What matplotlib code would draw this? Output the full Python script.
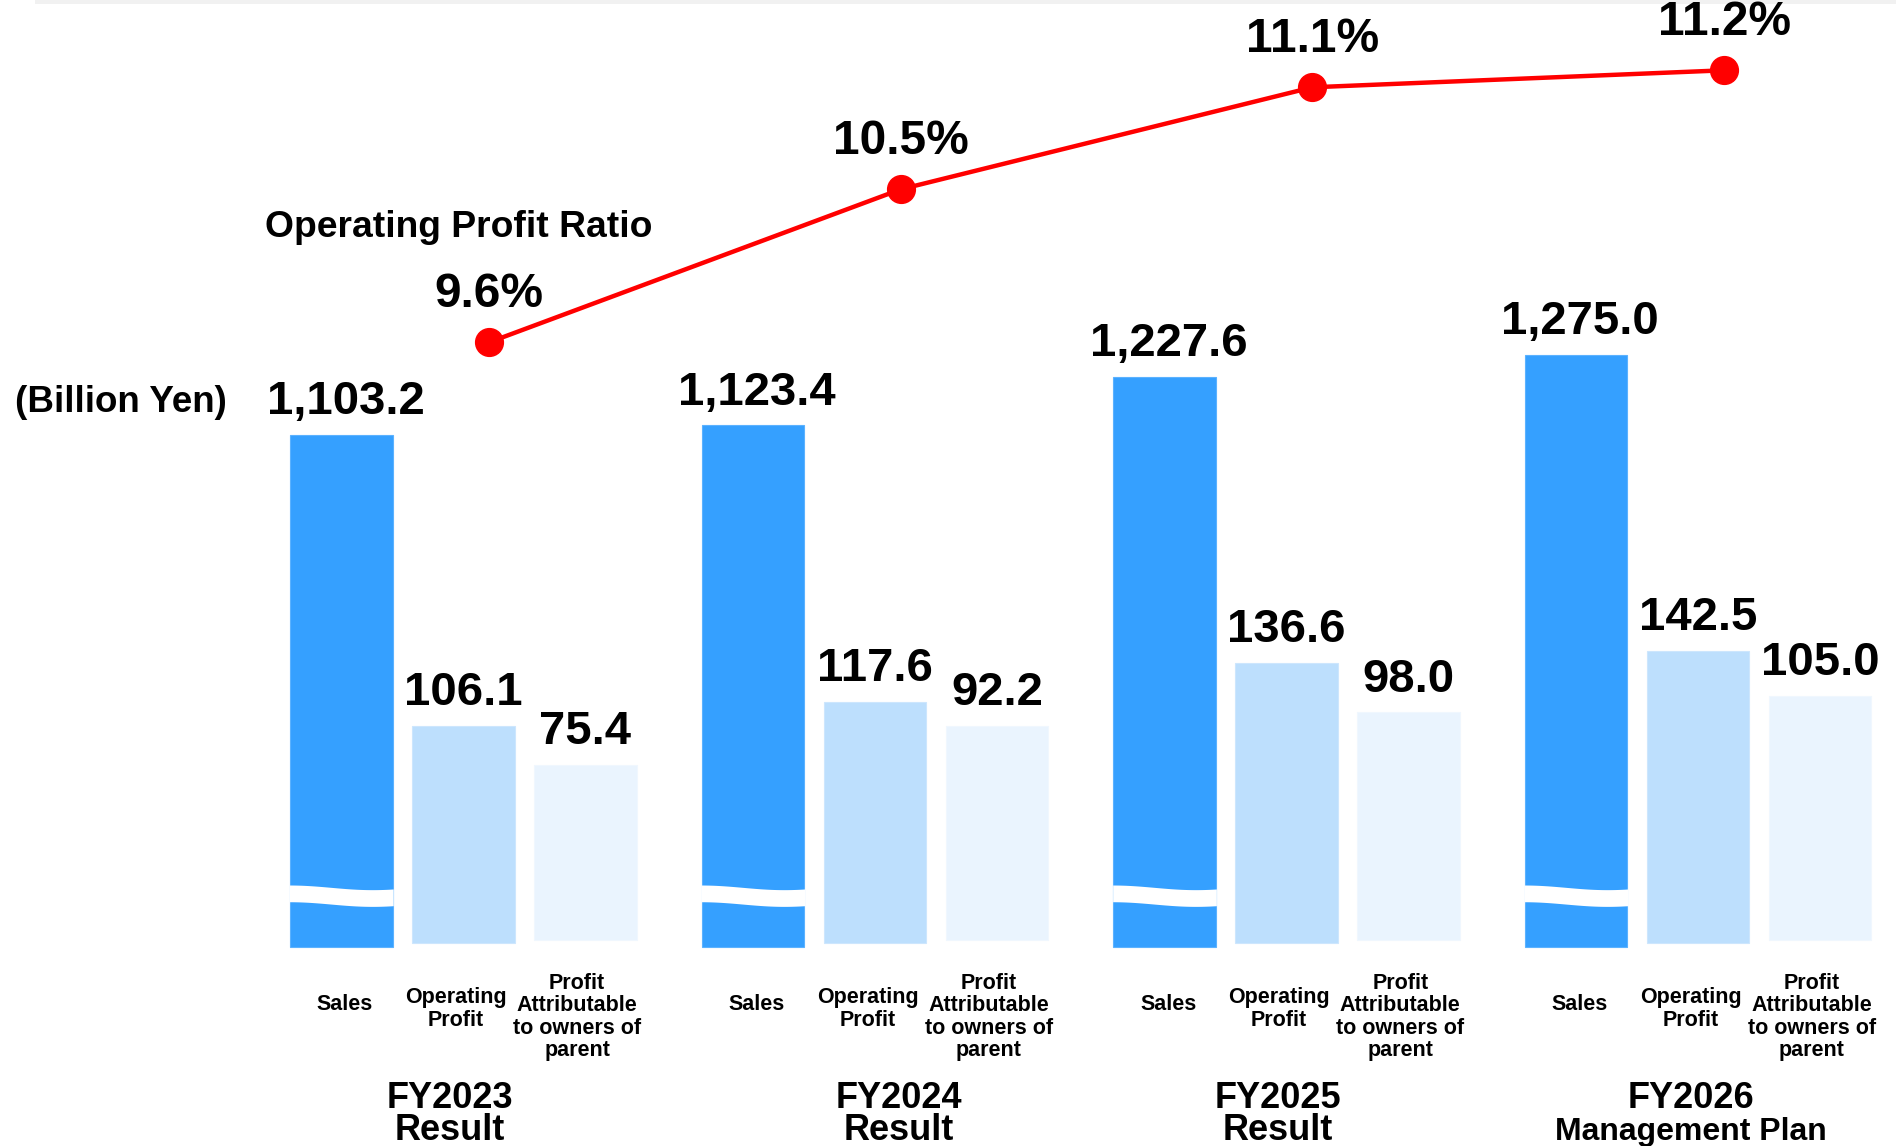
import numpy as np
import matplotlib
matplotlib.use("Agg")
import matplotlib.pyplot as plt
from matplotlib.patches import Rectangle, Polygon
from matplotlib.transforms import blended_transform_factory

# ---------------- data ----------------
group_years = ["FY2023", "FY2024", "FY2025", "FY2026"]
group_kinds = ["Result", "Result", "Result", "Management Plan"]
series_labels = ["Sales", "Operating\nProfit", "Profit\nAttributable\nto owners of\nparent"]
sales = [1103.2, 1123.4, 1227.6, 1275.0]
operating_profit = [106.1, 117.6, 136.6, 142.5]
profit_attrib = [75.4, 92.2, 98.0, 105.0]
op_ratio = [9.6, 10.5, 11.1, 11.2]
ratio_title = "Operating Profit Ratio"
unit_label = "(Billion Yen)"

# ---------------- style ----------------
W, H, DPI = 1896, 1146, 100
FONT = "Liberation Sans"
C_SALES = "#35A0FF"
C_OP = "#BDDFFD"
C_PAT = "#EAF4FE"
C_LINE = "#FF0000"

plt.rcParams["font.family"] = [FONT, "DejaVu Sans"]
plt.rcParams["font.weight"] = "bold"

fig = plt.figure(figsize=(W / DPI, H / DPI), dpi=DPI)
fig.patch.set_facecolor("white")

x = np.arange(len(group_years))
off = 0.2964
bw = 0.2495
xlim = (-1.1256, 3.4808)


def make_ax(ylim, z):
    a = fig.add_axes([0, 0, 1, 1], zorder=z)
    a.set_xlim(*xlim)
    a.set_ylim(*ylim)
    a.axis("off")
    a.patch.set_alpha(0)
    return a


ax_s = make_ax((-427.8, 2039.4), 1)
ax_o = make_ax((-98.88, 460.15), 2)
ax_p = make_ax((-88.96, 405.22), 3)
ax_l = make_ax((4.872, 11.6135), 4)

VAL_FS = 34
lab_off = 15

# Sales bars
ax_s.bar(x - off, sales, width=bw, color=C_SALES, edgecolor="#5BB2FF", linewidth=0.8)
for xi, v in zip(x - off, sales):
    ax_s.annotate(f"{v:,.1f}", (xi, v), xytext=(3, lab_off), textcoords="offset points",
                  ha="center", va="baseline", fontsize=VAL_FS, fontweight="bold")

# wave break on sales bars (decorative)
t = np.linspace(0, 1, 60)
BREAK_AT = 110.0
half = 18.0
amp = 5.0
for xi in x - off:
    xs = xi - bw / 2 + t * bw * 1.01
    top = BREAK_AT + half + amp * np.cos(1.25 * np.pi * t)
    bot = BREAK_AT - half + amp * np.cos(1.25 * np.pi * t)
    pts = np.column_stack([np.concatenate([xs, xs[::-1]]), np.concatenate([top, bot[::-1]])])
    ax_s.add_patch(Polygon(pts, closed=True, facecolor="white", edgecolor="none", zorder=5))

# Operating profit bars
ax_o.bar(x, operating_profit, width=bw, color=C_OP, edgecolor="#CDE6FD", linewidth=0.8)
for xi, v in zip(x, operating_profit):
    ax_o.annotate(f"{v:,.1f}", (xi, v), xytext=(0, lab_off), textcoords="offset points",
                  ha="center", va="baseline", fontsize=VAL_FS, fontweight="bold")

# Profit attributable bars
ax_p.bar(x + off, profit_attrib, width=bw, color=C_PAT, edgecolor="#F0F7FE", linewidth=0.8)
for xi, v in zip(x + off, profit_attrib):
    ax_p.annotate(f"{v:,.1f}", (xi, v), xytext=(0, lab_off), textcoords="offset points",
                  ha="center", va="baseline", fontsize=VAL_FS, fontweight="bold")

# Operating profit ratio line
lx = x + 0.063
ax_l.plot(lx, op_ratio, color=C_LINE, lw=3.2, marker="o", markersize=20, solid_capstyle="round")
for xi, v in zip(lx, op_ratio):
    ax_l.annotate(f"{v:.1f}%", (xi, v), xytext=(0, 25.5), textcoords="offset points",
                  ha="center", va="baseline", fontsize=34.5, fontweight="bold")

# texts in figure coordinates
fig.text(265 / W, 1 - 237 / H, ratio_title, fontsize=26.8, fontweight="bold", ha="left", va="baseline")
fig.text(15 / W, 1 - 411.7 / H, unit_label, fontsize=26.5, fontweight="bold", ha="left", va="baseline")

# category labels under bars
tr = blended_transform_factory(ax_l.transData, ax_l.transAxes)
lab_dx = [0.009, -0.018, -0.02]
lab_y = [1005, 1009, 1017]
grp_dx = [-0.032, 0.059, -0.02, -0.018]
kind_fs = [26, 26, 26, 23]
for gi in x:
    for k, (o, lab) in enumerate(zip([-off, 0, off], series_labels)):
        ax_l.text(gi + o + lab_dx[k], 1 - lab_y[k] / H, lab, transform=tr, ha="center", va="center",
                  fontsize=15.5, fontweight="bold", linespacing=1.08)
    ax_l.text(gi + grp_dx[gi], 1 - 1108 / H, group_years[gi], transform=tr, ha="center",
              va="baseline", fontsize=26, fontweight="bold")
    ax_l.text(gi + grp_dx[gi], 1 - 1140 / H, group_kinds[gi], transform=tr, ha="center",
              va="baseline", fontsize=kind_fs[gi], fontweight="bold")

# thin grey band at top
fig.add_artist(Rectangle((35 / W, 1 - 4 / H), 1, 4 / H, transform=fig.transFigure,
                         facecolor="#F1F1F1", edgecolor="none"))

fig.savefig("out.png", dpi=DPI, facecolor="white")
